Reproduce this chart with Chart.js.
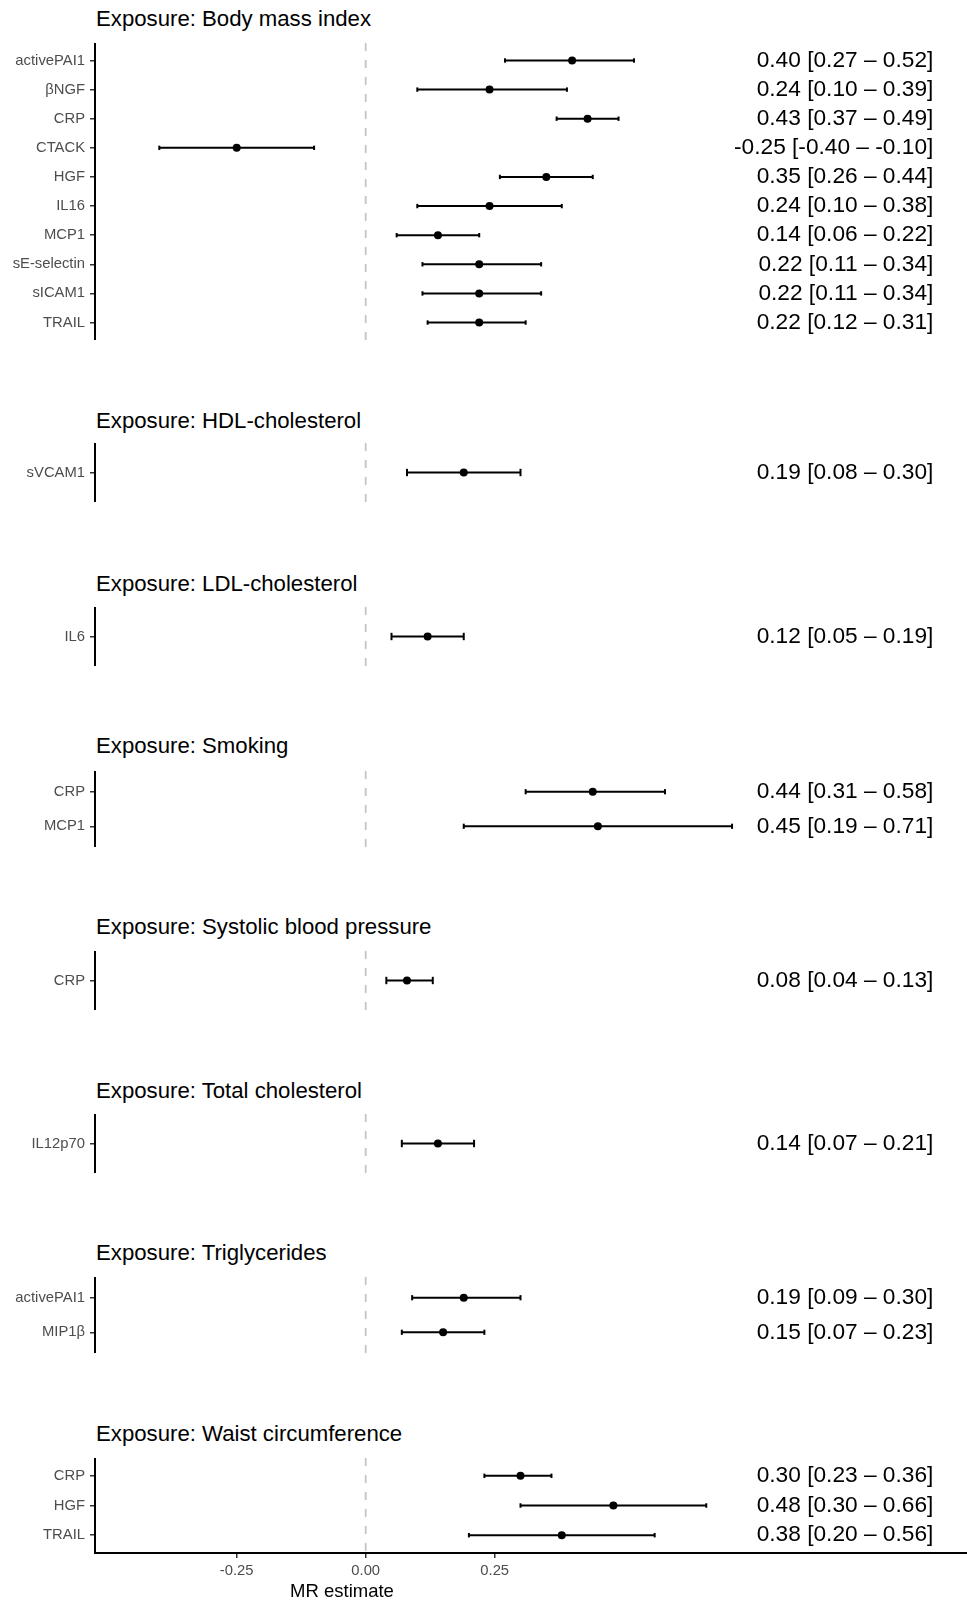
<!DOCTYPE html>
<html>
<head>
<meta charset="utf-8">
<title>MR estimates by exposure</title>
<script src="https://cdn.jsdelivr.net/npm/chart.js@4.4.1/dist/chart.umd.min.js"></script>
<style>
  html, body { margin: 0; padding: 0; background: #ffffff; }
  #page {
    position: relative; width: 967px; height: 1602px; overflow: hidden;
    font-family: "Liberation Sans", Arial, sans-serif; background: #ffffff;
  }
  .panel-title {
    position: absolute; left: 96px; height: 30px; line-height: 30px;
    font-size: 22.2px; color: #000000; white-space: nowrap;
  }
  .panel-canvas { position: absolute; left: 0; }
  #x-title {
    position: absolute; left: 242px; width: 200px; height: 24px; line-height: 24px;
    text-align: center; font-size: 18.5px; color: #000000; white-space: nowrap;
  }
</style>
</head>
<body>
<div id="page"></div>
<script>
// ---- Data: one set of small arrays per exposure ----
const exposures = [
  'Body mass index', 'HDL-cholesterol', 'LDL-cholesterol', 'Smoking',
  'Systolic blood pressure', 'Total cholesterol', 'Triglycerides', 'Waist circumference'
];

const bmiMarkers  = ['activePAI1', 'βNGF', 'CRP', 'CTACK', 'HGF', 'IL16', 'MCP1', 'sE-selectin', 'sICAM1', 'TRAIL'];
const bmiEstimate = [0.40, 0.24, 0.43, -0.25, 0.35, 0.24, 0.14, 0.22, 0.22, 0.22];
const bmiLower    = [0.27, 0.10, 0.37, -0.40, 0.26, 0.10, 0.06, 0.11, 0.11, 0.12];
const bmiUpper    = [0.52, 0.39, 0.49, -0.10, 0.44, 0.38, 0.22, 0.34, 0.34, 0.31];

const hdlMarkers  = ['sVCAM1'];
const hdlEstimate = [0.19];
const hdlLower    = [0.08];
const hdlUpper    = [0.30];

const ldlMarkers  = ['IL6'];
const ldlEstimate = [0.12];
const ldlLower    = [0.05];
const ldlUpper    = [0.19];

const smokingMarkers  = ['CRP', 'MCP1'];
const smokingEstimate = [0.44, 0.45];
const smokingLower    = [0.31, 0.19];
const smokingUpper    = [0.58, 0.71];

const sbpMarkers  = ['CRP'];
const sbpEstimate = [0.08];
const sbpLower    = [0.04];
const sbpUpper    = [0.13];

const tcMarkers  = ['IL12p70'];
const tcEstimate = [0.14];
const tcLower    = [0.07];
const tcUpper    = [0.21];

const tgMarkers  = ['activePAI1', 'MIP1β'];
const tgEstimate = [0.19, 0.15];
const tgLower    = [0.09, 0.07];
const tgUpper    = [0.30, 0.23];

const waistMarkers  = ['CRP', 'HGF', 'TRAIL'];
const waistEstimate = [0.30, 0.48, 0.38];
const waistLower    = [0.23, 0.30, 0.20];
const waistUpper    = [0.36, 0.66, 0.56];

const xTickValues = [-0.25, 0, 0.25];
const xAxisTitle = 'MR estimate';

// ---- Layout ----
const FONT = '"Liberation Sans", Arial, sans-serif';
const WIDTH = 967;
const X_MIN = -0.5246;
const X_MAX = 1.1653;
const LABEL_X = 1.10;       // right edge of the estimate text, in MR units
const Y_EXPAND = 0.6;       // discrete axis padding, in rows
const CAP_HALF = 0.075;     // half height of whisker caps, in rows
const X_AXIS_HEIGHT = 30;

const panels = [
  { markers: bmiMarkers,     est: bmiEstimate,     lo: bmiLower,     hi: bmiUpper },
  { markers: hdlMarkers,     est: hdlEstimate,     lo: hdlLower,     hi: hdlUpper },
  { markers: ldlMarkers,     est: ldlEstimate,     lo: ldlLower,     hi: ldlUpper },
  { markers: smokingMarkers, est: smokingEstimate, lo: smokingLower, hi: smokingUpper },
  { markers: sbpMarkers,     est: sbpEstimate,     lo: sbpLower,     hi: sbpUpper },
  { markers: tcMarkers,      est: tcEstimate,      lo: tcLower,      hi: tcUpper },
  { markers: tgMarkers,      est: tgEstimate,      lo: tgLower,      hi: tgUpper },
  { markers: waistMarkers,   est: waistEstimate,   lo: waistLower,   hi: waistUpper }
];

// title centre, plot top, plot bottom (page pixels)
const panelBoxes = [
  [18.5, 43, 340],
  [421, 443, 502],
  [583.5, 607, 666],
  [746, 771, 847],
  [927, 951, 1010],
  [1091, 1114, 1173],
  [1253, 1277, 1353],
  [1434, 1458, 1553]
];

const fmt = v => v.toFixed(2);

// Draws "estimate [lower – upper]" at the right of each row
const estimateLabels = {
  id: 'estimateLabels',
  afterDatasetsDraw(chart, args, opts) {
    const { ctx, scales } = chart;
    ctx.save();
    ctx.font = '22.7px ' + FONT;
    ctx.fillStyle = '#000000';
    ctx.textAlign = 'right';
    ctx.textBaseline = 'middle';
    const xp = scales.x.getPixelForValue(LABEL_X);
    opts.texts.forEach((t, i) => ctx.fillText(t, xp, scales.y.getPixelForValue(i)));
    ctx.restore();
  }
};

const page = document.getElementById('page');

panels.forEach((p, k) => {
  const [titleY, top, bottom] = panelBoxes[k];
  const n = p.markers.length;
  const isLast = k === panels.length - 1;
  const plotH = bottom - top;
  const rowPx = plotH / (n - 1 + 2 * Y_EXPAND);

  const title = document.createElement('div');
  title.className = 'panel-title';
  title.style.top = (titleY - 15) + 'px';
  title.textContent = 'Exposure: ' + exposures[k];
  page.appendChild(title);

  const canvas = document.createElement('canvas');
  canvas.className = 'panel-canvas';
  const h = plotH + (isLast ? X_AXIS_HEIGHT : 0);
  canvas.width = WIDTH; canvas.height = h;
  canvas.style.width = WIDTH + 'px'; canvas.style.height = h + 'px';
  canvas.style.top = top + 'px';
  page.appendChild(canvas);

  const datasets = [];
  // point estimates
  datasets.push({
    type: 'scatter', order: 0, showLine: false,
    data: p.est.map((v, i) => ({ x: v, y: i })),
    pointStyle: 'circle', pointRadius: 4, pointHoverRadius: 4,
    pointBackgroundColor: '#000000', pointBorderWidth: 0, clip: false
  });
  // confidence intervals with end caps
  p.markers.forEach((m, i) => {
    datasets.push({
      type: 'scatter', order: 1, showLine: true,
      data: [{ x: p.lo[i], y: i }, { x: p.hi[i], y: i }],
      borderColor: '#000000', borderWidth: 2, borderCapStyle: 'butt',
      pointStyle: 'line', pointRotation: 90,
      pointRadius: CAP_HALF * rowPx, pointHoverRadius: CAP_HALF * rowPx,
      pointBorderColor: '#000000', pointBorderWidth: 2, clip: false
    });
  });
  // reference line at zero
  datasets.push({
    type: 'scatter', order: 2, showLine: true,
    data: [{ x: 0, y: -Y_EXPAND }, { x: 0, y: n - 1 + Y_EXPAND }],
    borderColor: '#c4c4c4', borderWidth: 1.8, borderDash: [8, 9],
    pointRadius: 0, pointHoverRadius: 0
  });

  new Chart(canvas, {
    type: 'scatter',
    data: { datasets },
    plugins: [estimateLabels],
    options: {
      responsive: false, maintainAspectRatio: false, devicePixelRatio: 1, animation: false,
      events: [],
      layout: { padding: 0, autoPadding: false },
      plugins: {
        legend: { display: false }, tooltip: { enabled: false }, title: { display: false },
        estimateLabels: { texts: p.est.map((v, i) => fmt(v) + ' [' + fmt(p.lo[i]) + ' – ' + fmt(p.hi[i]) + ']') }
      },
      scales: {
        x: {
          type: 'linear', min: X_MIN, max: X_MAX, display: isLast,
          afterBuildTicks: s => { s.ticks = xTickValues.map(v => ({ value: v })); },
          afterFit: s => {
            s.height = isLast ? X_AXIS_HEIGHT : 0;
            s.paddingLeft = 0; s.paddingRight = 0;
          },
          border: { display: true, color: '#000000', width: 2 },
          grid: { drawOnChartArea: false, drawTicks: true, tickLength: 5, color: '#333333', lineWidth: 1.5 },
          ticks: {
            font: { family: FONT, size: 14.8 }, color: '#4d4d4d', padding: 4,
            maxRotation: 0, autoSkip: false, callback: v => fmt(v)
          }
        },
        y: {
          type: 'linear', reverse: true, min: -Y_EXPAND, max: n - 1 + Y_EXPAND,
          afterBuildTicks: s => { s.ticks = p.markers.map((m, i) => ({ value: i })); },
          afterFit: s => {
            s.width = 95;
            s.paddingTop = 0; s.paddingBottom = 0;
          },
          border: { display: true, color: '#000000', width: 2 },
          grid: { drawOnChartArea: false, drawTicks: true, tickLength: 5, color: '#333333', lineWidth: 1.5 },
          ticks: {
            font: { family: FONT, size: 14.8 }, color: '#4d4d4d', padding: 5,
            autoSkip: false, callback: v => p.markers[Math.round(v)]
          }
        }
      }
    }
  });
});

const xt = document.createElement('div');
xt.id = 'x-title';
xt.style.top = (1591 - 12) + 'px';
xt.textContent = xAxisTitle;
page.appendChild(xt);
</script>
</body>
</html>
